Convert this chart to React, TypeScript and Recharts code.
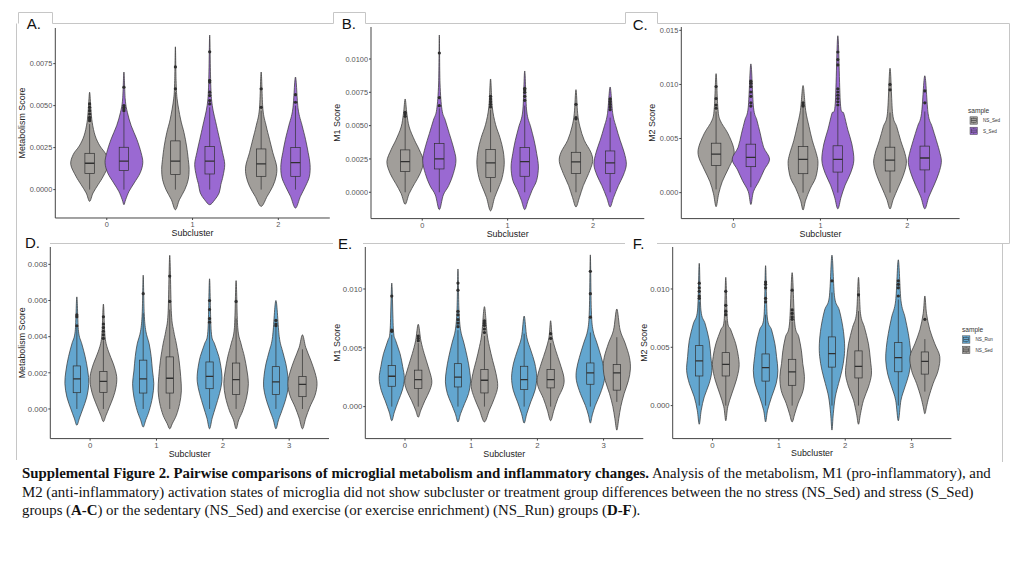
import React from 'react';
import { ComposedChart, Scatter, XAxis, YAxis, Legend } from 'recharts';

// ---------------- DATA ----------------
const subclustersABC = ['0', '1', '2'];
const subclustersDEF = ['0', '1', '2', '3'];
const samplesABC = ['NS_Sed', 'S_Sed'];
const samplesDEF = ['NS_Run', 'NS_Sed'];

// Violin outlines: per subcluster, [score, half-width in subcluster units] from bottom tip to top tip
const A_NSSed_violin = [
  [[-0.0007, 0], [-0.0002, 0.04], [0.0003, 0.1], [0.0008, 0.16], [0.0015, 0.22], [0.0021, 0.19], [0.0026, 0.12], [0.0032, 0.065], [0.004, 0.03], [0.0048, 0.015], [0.0058, 0]],
  [[-0.0012, 0], [-0.0006, 0.047], [0, 0.11], [0.0006, 0.15], [0.0012, 0.16], [0.0018, 0.15], [0.0026, 0.13], [0.0034, 0.1], [0.0042, 0.06], [0.0054, 0.02], [0.0065, 0.008], [0.0085, 0]],
  [[-0.001, 0], [-0.0004, 0.07], [0.0002, 0.136], [0.0008, 0.175], [0.0014, 0.18], [0.0022, 0.136], [0.003, 0.097], [0.0038, 0.058], [0.0048, 0.02], [0.007, 0]],
];
const A_SSed_violin = [
  [[-0.0009, 0], [-0.0006, 0.02], [-0.0001, 0.06], [0.0004, 0.12], [0.001, 0.19], [0.0016, 0.22], [0.0022, 0.2], [0.003, 0.15], [0.0038, 0.085], [0.0046, 0.04], [0.0054, 0.015], [0.007, 0]],
  [[-0.0009, 0], [-0.0006, 0.06], [-0.0002, 0.11], [0.0003, 0.13], [0.0008, 0.155], [0.0015, 0.175], [0.0022, 0.15], [0.003, 0.115], [0.0038, 0.08], [0.005, 0.03], [0.0063, 0.012], [0.0092, 0]],
  [[-0.0011, 0], [-0.0004, 0.058], [0.0002, 0.117], [0.0008, 0.163], [0.0015, 0.17], [0.0022, 0.148], [0.003, 0.117], [0.0038, 0.078], [0.0048, 0.031], [0.0067, 0]],
];
const B_NSSed_violin = [
  [[-0.0009, 0], [-0.0001, 0.047], [0.00065, 0.11], [0.0014, 0.175], [0.0023, 0.214], [0.0032, 0.164], [0.0039, 0.11], [0.0049, 0.047], [0.0059, 0.02], [0.007, 0]],
  [[-0.0014, 0], [-0.0004, 0.047], [0.0004, 0.097], [0.0011, 0.136], [0.0021, 0.16], [0.0031, 0.148], [0.0041, 0.11], [0.0051, 0.058], [0.0064, 0.02], [0.0085, 0]],
  [[-0.0011, 0], [-0.0004, 0.04], [0.0005, 0.086], [0.0014, 0.148], [0.0023, 0.195], [0.003, 0.175], [0.0039, 0.097], [0.0049, 0.047], [0.0059, 0.02], [0.0077, 0]],
];
const B_SSed_violin = [
  [[-0.0013, 0], [-0.0002, 0.047], [0.0005, 0.11], [0.0014, 0.164], [0.0024, 0.195], [0.0034, 0.164], [0.0044, 0.117], [0.0054, 0.07], [0.0062, 0.031], [0.0082, 0.008], [0.0118, 0]],
  [[-0.0013, 0], [-0.0006, 0.04], [0.00015, 0.086], [0.0009, 0.14], [0.0019, 0.16], [0.0029, 0.14], [0.0039, 0.11], [0.0049, 0.07], [0.0061, 0.023], [0.0091, 0]],
  [[-0.0011, 0], [-0.0004, 0.04], [0.0005, 0.097], [0.0013, 0.156], [0.0021, 0.19], [0.003, 0.164], [0.0039, 0.117], [0.0049, 0.07], [0.0059, 0.031], [0.0079, 0]],
];
const C_NSSed_violin = [
  [[-0.0013, 0], [-0.0001, 0.03], [0.001, 0.07], [0.0021, 0.134], [0.0033, 0.2], [0.0042, 0.2], [0.0055, 0.134], [0.0067, 0.046], [0.0079, 0.02], [0.011, 0]],
  [[-0.0016, 0], [-0.0007, 0.03], [0.0004, 0.084], [0.0014, 0.146], [0.0027, 0.172], [0.0036, 0.153], [0.0048, 0.107], [0.0061, 0.069], [0.0076, 0.03], [0.0099, 0]],
  [[-0.0015, 0], [-0.0006, 0.038], [0.0005, 0.096], [0.0016, 0.153], [0.0027, 0.188], [0.0036, 0.172], [0.0048, 0.123], [0.0061, 0.077], [0.0073, 0.03], [0.0115, 0]],
];
const C_SSed_violin = [
  [[-0.0011, 0], [0.0001, 0.03], [0.0011, 0.096], [0.0021, 0.153], [0.0031, 0.215], [0.0042, 0.146], [0.0055, 0.107], [0.0067, 0.069], [0.0079, 0.03], [0.0119, 0]],
  [[-0.0015, 0], [-0.0004, 0.038], [0.0007, 0.084], [0.0018, 0.146], [0.003, 0.184], [0.0045, 0.161], [0.0058, 0.115], [0.0073, 0.069], [0.0082, 0.03], [0.0145, 0]],
  [[-0.0015, 0], [-0.0004, 0.046], [0.0007, 0.107], [0.0018, 0.161], [0.0028, 0.19], [0.0036, 0.176], [0.0048, 0.134], [0.0061, 0.084], [0.0073, 0.038], [0.0108, 0]],
];
const D_NSRun_violin = [
  [[-0.0009, 0], [-0.0005, 0.04], [0, 0.09], [0.00066, 0.15], [0.0014, 0.18], [0.0021, 0.165], [0.0029, 0.125], [0.0036, 0.075], [0.0043, 0.025], [0.0062, 0]],
  [[-0.001, 0], [-0.0006, 0.04], [-0.0001, 0.09], [0.00066, 0.14], [0.0014, 0.16], [0.0021, 0.14], [0.0029, 0.12], [0.0036, 0.09], [0.0043, 0.04], [0.0053, 0.015], [0.0074, 0]],
  [[-0.0011, 0], [-0.0005, 0.04], [0.0001, 0.09], [0.00085, 0.15], [0.0015, 0.185], [0.0021, 0.18], [0.0029, 0.14], [0.0036, 0.075], [0.0043, 0.025], [0.0072, 0]],
  [[-0.0011, 0], [-0.0006, 0.04], [-0.0001, 0.09], [0.00057, 0.15], [0.0012, 0.185], [0.0018, 0.18], [0.0025, 0.15], [0.0032, 0.1], [0.004, 0.05], [0.006, 0]],
];
const D_NSSed_violin = [
  [[-0.0007, 0], [-0.00035, 0.04], [0.0001, 0.09], [0.00066, 0.15], [0.0012, 0.19], [0.0018, 0.2], [0.0025, 0.15], [0.0032, 0.075], [0.004, 0.025], [0.0058, 0]],
  [[-0.0011, 0], [-0.0008, 0.04], [-0.00035, 0.1], [0.0003, 0.15], [0.001, 0.175], [0.0018, 0.165], [0.0027, 0.14], [0.0036, 0.1], [0.0043, 0.06], [0.0053, 0.025], [0.0085, 0]],
  [[-0.0011, 0], [-0.0006, 0.04], [-0.0001, 0.1], [0.00066, 0.16], [0.0014, 0.185], [0.0021, 0.165], [0.0029, 0.125], [0.0036, 0.075], [0.0045, 0.025], [0.0071, 0]],
  [[-0.0011, 0], [-0.0005, 0.05], [0.0001, 0.11], [0.00076, 0.19], [0.0014, 0.22], [0.002, 0.19], [0.0027, 0.125], [0.0034, 0.05], [0.0041, 0]],
];
const E_NSRun_violin = [
  [[-0.0012, 0], [-0.00045, 0.04], [0.0005, 0.1], [0.0014, 0.16], [0.0024, 0.19], [0.0034, 0.165], [0.0045, 0.125], [0.0056, 0.06], [0.0065, 0.025], [0.0105, 0]],
  [[-0.0013, 0], [-0.0006, 0.04], [0.00025, 0.1], [0.0011, 0.16], [0.0021, 0.19], [0.0031, 0.175], [0.0042, 0.14], [0.0054, 0.09], [0.0065, 0.04], [0.0082, 0.015], [0.0117, 0]],
  [[-0.0014, 0], [-0.0006, 0.04], [0.0004, 0.1], [0.0014, 0.165], [0.0025, 0.19], [0.0037, 0.16], [0.0048, 0.1], [0.0059, 0.04], [0.0077, 0]],
  [[-0.0014, 0], [-0.0007, 0.03], [0.0001, 0.075], [0.0011, 0.15], [0.0022, 0.21], [0.0031, 0.21], [0.0042, 0.165], [0.0054, 0.1], [0.0065, 0.04], [0.0082, 0.015], [0.0129, 0]],
];
const E_NSSed_violin = [
  [[-0.0009, 0], [-0.0003, 0.04], [0.0005, 0.1], [0.0014, 0.175], [0.0022, 0.205], [0.0034, 0.15], [0.0045, 0.09], [0.0056, 0.04], [0.007, 0]],
  [[-0.0013, 0], [-0.0003, 0.075], [0.0007, 0.15], [0.0017, 0.2], [0.0028, 0.175], [0.0039, 0.125], [0.0051, 0.075], [0.0062, 0.04], [0.0085, 0]],
  [[-0.0012, 0], [-0.0003, 0.05], [0.0007, 0.11], [0.0017, 0.19], [0.0025, 0.2], [0.0037, 0.14], [0.0048, 0.075], [0.0059, 0.025], [0.0073, 0]],
  [[-0.002, 0], [-0.001, 0.03], [0, 0.06], [0.0011, 0.11], [0.0022, 0.175], [0.0032, 0.205], [0.0042, 0.19], [0.0054, 0.125], [0.0065, 0.05], [0.0083, 0]],
];
const F_NSRun_violin = [
  [[-0.0016, 0], [-0.0004, 0.03], [0.00074, 0.075], [0.0019, 0.15], [0.003, 0.19], [0.0042, 0.175], [0.0056, 0.15], [0.007, 0.09], [0.0082, 0.025], [0.0122, 0]],
  [[-0.0014, 0], [-0.0004, 0.03], [0.00074, 0.09], [0.0019, 0.16], [0.003, 0.185], [0.0042, 0.165], [0.0053, 0.14], [0.0065, 0.09], [0.0076, 0.025], [0.012, 0]],
  [[-0.0021, 0], [-0.0007, 0.02], [0.00074, 0.05], [0.0019, 0.1], [0.003, 0.15], [0.0042, 0.185], [0.0053, 0.19], [0.0067, 0.165], [0.0082, 0.11], [0.0093, 0.04], [0.0129, 0]],
  [[-0.0013, 0], [0.00046, 0.04], [0.0016, 0.1], [0.0027, 0.16], [0.0039, 0.19], [0.005, 0.18], [0.0062, 0.15], [0.0076, 0.1], [0.009, 0.04], [0.0125, 0]],
];
const F_NSSed_violin = [
  [[-0.0013, 0], [-0.0001, 0.03], [0.001, 0.09], [0.0022, 0.16], [0.0033, 0.2], [0.0042, 0.19], [0.0053, 0.15], [0.0065, 0.075], [0.0073, 0.025], [0.011, 0]],
  [[-0.0014, 0], [-0.0007, 0.04], [0.0002, 0.09], [0.0013, 0.165], [0.0025, 0.185], [0.0036, 0.16], [0.0047, 0.14], [0.0059, 0.1], [0.007, 0.04], [0.0114, 0]],
  [[-0.0016, 0], [-0.0007, 0.03], [0.00046, 0.075], [0.0016, 0.15], [0.0027, 0.195], [0.0039, 0.18], [0.0053, 0.15], [0.0067, 0.09], [0.0079, 0.03], [0.011, 0]],
  [[-0.0007, 0], [-0.0001, 0.025], [0.00074, 0.06], [0.0019, 0.125], [0.003, 0.2], [0.0042, 0.225], [0.0053, 0.15], [0.0065, 0.075], [0.0079, 0.025], [0.0094, 0]],
];

// Box plots: per subcluster [lower whisker, Q1, median, Q3, upper whisker]
const A_NSSed_box = [[0, 0.00095, 0.00157, 0.00216, 0.0039], [0, 0.0009, 0.0017, 0.0029, 0.0058], [0, 0.00079, 0.00153, 0.00242, 0.0047]];
const A_SSed_box = [[0, 0.00113, 0.00169, 0.00252, 0.0046], [0, 0.00093, 0.00169, 0.00256, 0.0049], [0, 0.00079, 0.0016, 0.0025, 0.005]];
const B_NSSed_box = [[0, 0.00155, 0.0023, 0.00318, 0.0056], [0, 0.0011, 0.0022, 0.0032, 0.0062], [0, 0.0014, 0.00228, 0.003, 0.0053]];
const B_SSed_box = [[0, 0.00175, 0.0025, 0.00365, 0.0063], [0, 0.0012, 0.0023, 0.00335, 0.0065], [0, 0.0014, 0.0022, 0.0031, 0.0056]];
const C_NSSed_box = [[0.0003, 0.0025, 0.00356, 0.00457, 0.0075], [0, 0.00175, 0.00307, 0.00426, 0.0079], [0, 0.002, 0.003, 0.0042, 0.0074]];
const C_SSed_box = [[0.0005, 0.0024, 0.00325, 0.00448, 0.0075], [0, 0.0019, 0.00307, 0.00433, 0.0079], [0, 0.0021, 0.0032, 0.0043, 0.0075]];
const D_NSRun_box = [[0, 0.0009, 0.00166, 0.00238, 0.0045], [0, 0.00088, 0.00166, 0.0027, 0.0053], [0, 0.00112, 0.0018, 0.0026, 0.0047], [0, 0.0008, 0.0015, 0.00234, 0.0045]];
const D_NSSed_box = [[0, 0.00092, 0.00153, 0.00208, 0.0038], [0, 0.00088, 0.0017, 0.00288, 0.0055], [0, 0.0008, 0.00162, 0.00254, 0.005], [0, 0.00068, 0.00136, 0.0018, 0.0033]];
const E_NSRun_box = [[0, 0.00173, 0.00258, 0.0035, 0.0061], [0, 0.00167, 0.0025, 0.00365, 0.0065], [0, 0.00145, 0.0023, 0.00343, 0.0062], [0, 0.0019, 0.00286, 0.00371, 0.0063]];
const E_NSSed_box = [[0, 0.00153, 0.0023, 0.0031, 0.0054], [0, 0.00116, 0.00224, 0.00315, 0.006], [0, 0.00159, 0.0023, 0.00315, 0.0054], [0.0004, 0.0014, 0.00286, 0.00357, 0.0059]];
const F_NSRun_box = [[0, 0.00254, 0.00383, 0.00514, 0.0089], [0, 0.0021, 0.00326, 0.00443, 0.0078], [0, 0.0033, 0.00446, 0.00589, 0.0097], [0, 0.0029, 0.00411, 0.0054, 0.0091]];
const F_NSSed_box = [[0, 0.00254, 0.00354, 0.00454, 0.0073], [0, 0.00174, 0.00289, 0.00397, 0.0072], [0, 0.00237, 0.00337, 0.00469, 0.0081], [0.0012, 0.0027, 0.0038, 0.0046, 0.0057]];

// Outlier points per subcluster
const A_NSSed_out = [[0.0041, 0.0042, 0.0043, 0.0045, 0.0047, 0.0049, 0.0051], [0.006, 0.0073], [0.0049, 0.006]];
const A_SSed_out = [[0.0047, 0.0048, 0.0049, 0.005, 0.0061], [0.0051, 0.0053, 0.0056, 0.0058, 0.0064, 0.0065, 0.0082], [0.0052, 0.00565]];
const B_NSSed_out = [[0.0057, 0.0059, 0.006], [0.0064, 0.0066, 0.0068, 0.007, 0.0072], [0.0055, 0.0056, 0.0066]];
const B_SSed_out = [[0.0065, 0.0071, 0.01045], [0.0069, 0.0072, 0.0075, 0.0077, 0.0078], [0.0062, 0.0064, 0.0066, 0.0068, 0.007]];
const C_NSSed_out = [[0.0078, 0.0081, 0.0087, 0.0098], [0.008, 0.0081, 0.0083], [0.0095, 0.01]];
const C_SSed_out = [[0.008, 0.0083, 0.0089, 0.0093, 0.0098, 0.0101, 0.0103], [0.0081, 0.0084, 0.0087, 0.009, 0.0093, 0.0096, 0.0118, 0.0123, 0.013], [0.0083, 0.0094]];
const D_NSRun_out = [[0.0046, 0.0051, 0.0052], [0.00638], [0.0048, 0.005, 0.0055, 0.006], [0.0046, 0.0047, 0.0049]];
const D_NSSed_out = [[0.0039, 0.0041, 0.0043, 0.0045, 0.0047, 0.0051], [0.00595, 0.00735], [0.00595], []];
const E_NSRun_out = [[0.0064, 0.0065, 0.0094], [0.0068, 0.0071, 0.0074, 0.0078, 0.0081, 0.0099, 0.0105], [], [0.0076, 0.0096, 0.0115]];
const E_NSSed_out = [[0.0056, 0.0058, 0.006], [0.0063, 0.0066, 0.0069, 0.0071, 0.0073], [0.0058, 0.0062], []];
const F_NSRun_out = [[0.0092, 0.0094, 0.0098, 0.0101, 0.0105], [0.0089, 0.0092, 0.0101, 0.0104, 0.0106], [0.0107], [0.0094, 0.0101, 0.0104, 0.0107]];
const F_NSSed_out = [[0.0078, 0.0081, 0.0086, 0.0098], [0.0074, 0.0076, 0.0079, 0.0082, 0.0099], [0.0095], [0.0074]];

// Axis ticks
const ticksMetabolismA = [0, 0.0025, 0.005, 0.0075];
const ticksM1B = [0, 0.0025, 0.005, 0.0075, 0.01];
const ticksM2C = [0, 0.005, 0.01, 0.015];
const ticksMetabolismD = [0, 0.002, 0.004, 0.006, 0.008];
const ticksM1E = [0, 0.005, 0.01];
const ticksM2F = [0, 0.005, 0.01];

// ---------------- STYLE ----------------
const FONT = '"Liberation Sans", Arial, Helvetica, sans-serif';
const SERIF = '"Liberation Serif", "Times New Roman", Times, serif';
const GRAY = '#a19e9a';
const PURPLE = '#9a69d2';
const BLUE = '#63a6cf';
const OUTLINE = '#3a3a3a';
const DODGE = 0.2;
const BOX_HALF = 0.055;

type Pt = { x: number; y: number };

function smoothClosedPath(pts: Pt[]): string {
  const n = pts.length;
  if (n < 3) return '';
  let d = `M${pts[0].x},${pts[0].y}`;
  for (let i = 0; i < n; i++) {
    const p0 = pts[(i - 1 + n) % n];
    const p1 = pts[i];
    const p2 = pts[(i + 1) % n];
    const p3 = pts[(i + 2) % n];
    const c1x = p1.x + (p2.x - p0.x) / 6;
    const c1y = p1.y + (p2.y - p0.y) / 6;
    const c2x = p2.x - (p3.x - p1.x) / 6;
    const c2y = p2.y - (p3.y - p1.y) / 6;
    d += ` C${c1x},${c1y} ${c2x},${c2y} ${p2.x},${p2.y}`;
  }
  return d + 'Z';
}

const ViolinShape = (props: any) => {
  const pts: Pt[] = (props.points || []).filter((p: any) => p && p.x != null && p.y != null);
  return <path d={smoothClosedPath(pts)} fill={props.paint} stroke={OUTLINE} strokeWidth={0.75} strokeLinejoin="round" />;
};

const BoxShape = (props: any) => {
  const p = props.points;
  if (!p || p.length < 8) return <g />;
  const [lo, q1, q1l, q3r, q3, hi, ml, mr] = p;
  return (
    <g stroke="#303030" fill="none" strokeWidth={0.7}>
      <line x1={lo.x} y1={lo.y} x2={q1.x} y2={q1.y} />
      <line x1={q3.x} y1={q3.y} x2={hi.x} y2={hi.y} />
      <rect x={Math.min(q1l.x, q3r.x)} y={Math.min(q1l.y, q3r.y)} width={Math.abs(q3r.x - q1l.x)} height={Math.abs(q3r.y - q1l.y)} />
      <line x1={ml.x} y1={ml.y} x2={mr.x} y2={mr.y} strokeWidth={1.3} />
    </g>
  );
};

const Hidden = () => <g />;
const OutlierDot = (props: any) => <circle cx={props.cx} cy={props.cy} r={1.6} fill="#2e2e2e" />;

function violinPoints(profile: number[][], center: number): Pt[] {
  const right = profile.map(([v, w]) => ({ x: center + w, y: v }));
  const left = profile.slice(1, -1).reverse().map(([v, w]) => ({ x: center - w, y: v }));
  return [...right, ...left];
}
function boxPoints(s: number[], c: number): Pt[] {
  const [lo, q1, med, q3, hi] = s;
  return [
    { x: c, y: lo }, { x: c, y: q1 }, { x: c - BOX_HALF, y: q1 }, { x: c + BOX_HALF, y: q3 },
    { x: c, y: q3 }, { x: c, y: hi }, { x: c - BOX_HALF, y: med }, { x: c + BOX_HALF, y: med },
  ];
}

type Series = { name: string; color: string; offset: number; violins: number[][][]; boxes: number[][]; outliers: number[][] };
type PanelCfg = {
  id: string;
  plot: { l: number; r: number; t: number; b: number };
  yDomain: [number, number];
  yTicks: number[];
  decimals: number;
  tickFont: number;
  cats: string[];
  yTitle: string;
  yTitleX: number;
  xTitleBaseline: number;
  series: Series[];
  legend?: { left: number; top: number; right: number; keyDx: number };
};

const SampleLegend = ({ items, keyDx }: { items: { name: string; color: string }[]; keyDx: number }) => (
  <svg width={50} height={34} style={{ display: 'block', overflow: 'visible' }}>
    <text x={0} y={6} fontSize={6.6} fill="#333" fontFamily={FONT}>sample</text>
    {items.map((it, i) => (
      <g key={it.name} transform={`translate(${keyDx}, ${9.8 + i * 10.4})`}>
        <rect x={0} y={0} width={7.4} height={7.4} fill={it.color} stroke="#444" strokeWidth={0.5} />
        <line x1={3.7} y1={0.6} x2={3.7} y2={6.8} stroke="#333" strokeWidth={0.4} />
        <rect x={1.2} y={1.8} width={5} height={3.8} fill={it.color} stroke="#333" strokeWidth={0.45} />
        <line x1={1.2} y1={3.7} x2={6.2} y2={3.7} stroke="#333" strokeWidth={0.6} />
        <text x={13} y={5.4} fontSize={4.6} fill="#333" fontFamily={FONT}>{it.name}</text>
      </g>
    ))}
  </svg>
);

const mkSeriesABC = (nsSed: any[], sSed: any[]): Series[] => [
  { name: samplesABC[0], color: GRAY, offset: -DODGE, violins: nsSed[0], boxes: nsSed[1], outliers: nsSed[2] },
  { name: samplesABC[1], color: PURPLE, offset: DODGE, violins: sSed[0], boxes: sSed[1], outliers: sSed[2] },
];
const mkSeriesDEF = (run: any[], sed: any[]): Series[] => [
  { name: samplesDEF[0], color: BLUE, offset: -DODGE, violins: run[0], boxes: run[1], outliers: run[2] },
  { name: samplesDEF[1], color: GRAY, offset: DODGE, violins: sed[0], boxes: sed[1], outliers: sed[2] },
];

const panels: PanelCfg[] = [
  {
    id: 'A', plot: { l: 55, r: 329.5, t: 28.3, b: 218.3 }, yDomain: [-0.00169, 0.00962], yTicks: ticksMetabolismA, decimals: 4, tickFont: 7.4,
    cats: subclustersABC, yTitle: 'Metabolism Score', yTitleX: 21.7, xTitleBaseline: 236.5,
    series: mkSeriesABC([A_NSSed_violin, A_NSSed_box, A_NSSed_out], [A_SSed_violin, A_SSed_box, A_SSed_out]),
  },
  {
    id: 'B', plot: { l: 370.7, r: 644, t: 26.7, b: 218.3 }, yDomain: [-0.001975, 0.0124], yTicks: ticksM1B, decimals: 4, tickFont: 7.4,
    cats: subclustersABC, yTitle: 'M1 Score', yTitleX: 336.7, xTitleBaseline: 236.5,
    series: mkSeriesABC([B_NSSed_violin, B_NSSed_box, B_NSSed_out], [B_SSed_violin, B_SSed_box, B_SSed_out]),
  },
  {
    id: 'C', plot: { l: 681, r: 959.3, t: 26.7, b: 218.3 }, yDomain: [-0.0024, 0.01531], yTicks: ticksM2C, decimals: 3, tickFont: 7.4,
    cats: subclustersABC, yTitle: 'M2 Score', yTitleX: 651.7, xTitleBaseline: 236.5,
    series: mkSeriesABC([C_NSSed_violin, C_NSSed_box, C_NSSed_out], [C_SSed_violin, C_SSed_box, C_SSed_out]),
    legend: { left: 968, top: 107.3, right: 1012, keyDx: 2 },
  },
  {
    id: 'D', plot: { l: 50, r: 328.7, t: 246.7, b: 438.3 }, yDomain: [-0.00164, 0.00896], yTicks: ticksMetabolismD, decimals: 3, tickFont: 7.8,
    cats: subclustersDEF, yTitle: 'Metabolism Score', yTitleX: 21.7, xTitleBaseline: 456.5,
    series: mkSeriesDEF([D_NSRun_violin, D_NSRun_box, D_NSRun_out], [D_NSSed_violin, D_NSSed_box, D_NSSed_out]),
  },
  {
    id: 'E', plot: { l: 365, r: 643, t: 246.7, b: 438.3 }, yDomain: [-0.00272, 0.01357], yTicks: ticksM1E, decimals: 3, tickFont: 7.8,
    cats: subclustersDEF, yTitle: 'M1 Score', yTitleX: 336.7, xTitleBaseline: 456.5,
    series: mkSeriesDEF([E_NSRun_violin, E_NSRun_box, E_NSRun_out], [E_NSSed_violin, E_NSSed_box, E_NSSed_out]),
  },
  {
    id: 'F', plot: { l: 672.7, r: 951.4, t: 246.7, b: 438.3 }, yDomain: [-0.00283, 0.0136], yTicks: ticksM2F, decimals: 3, tickFont: 7.8,
    cats: subclustersDEF, yTitle: 'M2 Score', yTitleX: 644, xTitleBaseline: 456,
    series: mkSeriesDEF([F_NSRun_violin, F_NSRun_box, F_NSRun_out], [F_NSSed_violin, F_NSSed_box, F_NSSed_out]),
    legend: { left: 962, top: 326.3, right: 1000, keyDx: 0.5 },
  },
];

function Panel({ cfg }: { cfg: PanelCfg }) {
  const chartLeft = cfg.yTitleX - 5;
  const chartTop = cfg.plot.t - 5;
  const ya = cfg.plot.l - chartLeft;
  const xa = cfg.xTitleBaseline + 5 - cfg.plot.b;
  const rightMargin = cfg.legend ? cfg.legend.right - cfg.plot.r : 6;
  const width = cfg.plot.r + rightMargin - chartLeft;
  const height = cfg.plot.b + xa - chartTop;
  const n = cfg.cats.length;
  const tickIdx = cfg.cats.map((_, i) => i);

  const violinEls: React.ReactNode[] = [];
  const boxEls: React.ReactNode[] = [];
  const outEls: React.ReactNode[] = [];
  cfg.series.forEach((s, si) => {
    cfg.cats.forEach((_, ci) => {
      const c = ci + s.offset;
      violinEls.push(
        <Scatter key={`v-${si}-${ci}`} name={s.name} data={violinPoints(s.violins[ci], c)} shape={Hidden}
          line={<ViolinShape paint={s.color} />} isAnimationActive={false} legendType="none" />
      );
      boxEls.push(
        <Scatter key={`b-${si}-${ci}`} data={boxPoints(s.boxes[ci], c)} shape={Hidden}
          line={<BoxShape />} isAnimationActive={false} legendType="none" />
      );
    });
    const outs = s.outliers.flatMap((vals, ci) => vals.map((v) => ({ x: ci + s.offset, y: v })));
    outEls.push(
      <Scatter key={`o-${si}`} data={outs} shape={OutlierDot} isAnimationActive={false} legendType="none" />
    );
  });

  return (
    <div style={{ position: 'absolute', left: chartLeft, top: chartTop, width, height }}>
      <ComposedChart width={width} height={height} margin={{ top: 5, right: rightMargin, bottom: 0, left: 0 }}>
        <XAxis type="number" dataKey="x" domain={[-0.6, n - 0.4]} ticks={tickIdx} interval={0} allowDataOverflow
          tickFormatter={(v: number) => cfg.cats[Math.round(v)] ?? ''} height={xa}
          tick={{ fontSize: cfg.tickFont, fill: '#555', fontFamily: FONT }} tickSize={2} tickMargin={2}
          tickLine={{ stroke: '#444' }} axisLine={{ stroke: '#444', strokeWidth: 1 }}
          label={{ value: 'Subcluster', position: 'insideBottom', offset: 5, style: { fontSize: 8.9, fill: '#222', fontFamily: FONT } }} />
        <YAxis type="number" dataKey="y" domain={cfg.yDomain} ticks={cfg.yTicks} interval={0} allowDataOverflow width={ya}
          tickFormatter={(v: number) => v.toFixed(cfg.decimals)}
          tick={{ fontSize: cfg.tickFont, fill: '#555', fontFamily: FONT }} tickSize={2} tickMargin={1}
          tickLine={{ stroke: '#444' }} axisLine={{ stroke: '#444', strokeWidth: 1 }}
          label={{ value: cfg.yTitle, angle: -90, position: 'insideLeft', offset: 5, style: { textAnchor: 'middle', fontSize: 8.9, fill: '#222', fontFamily: FONT } }} />
        {violinEls}
        {boxEls}
        {outEls}
        {cfg.legend && (
          <Legend layout="horizontal" verticalAlign="middle" align="center"
            wrapperStyle={{ left: cfg.legend.left - chartLeft, top: cfg.legend.top - chartTop, width: 'auto', height: 'auto', lineHeight: 0 }}
            content={() => <SampleLegend items={cfg.series.map((s) => ({ name: s.name, color: s.color }))} keyDx={cfg.legend!.keyDx} />} />
        )}
      </ComposedChart>
    </div>
  );
}

const panelLetters = [
  { t: 'A.', x: 26.7, y: 29 },
  { t: 'B.', x: 341.7, y: 29.1 },
  { t: 'C.', x: 632.7, y: 30.3 },
  { t: 'D.', x: 25, y: 248.3 },
  { t: 'E.', x: 338, y: 248.6 },
  { t: 'F.', x: 632.7, y: 249 },
];

export default function App() {
  return (
    <div style={{ position: 'absolute', left: 0, top: 0, width: 1024, height: 576, background: '#fff', overflow: 'hidden' }}>
      <svg width={1024} height={576} style={{ position: 'absolute', left: 0, top: 0 }}>
        <g fill="none" stroke="#c6c6c6" strokeWidth={1}>
          <path d="M18.5,23.5 V12.5 H52.5 V23.5 H333.5 V12.5 H365.5 V23.5 H625.5 V12.5 H657.5 V23.5 H1009.5 V243.5 H657" />
          <path d="M16.5,23.5 V460" />
          <path d="M50,243.5 H333" />
          <path d="M363,243.5 H625" />
          <path d="M1002.5,243.5 V462" />
        </g>
      </svg>
      {panels.map((p) => <Panel key={p.id} cfg={p} />)}
      <svg width={1024} height={576} style={{ position: 'absolute', left: 0, top: 0, pointerEvents: 'none' }}>
        {panelLetters.map((l) => (
          <text key={l.t} x={l.x} y={l.y} fontSize={15} fontFamily={FONT} fill="#111">{l.t}</text>
        ))}
      </svg>
      <div style={{ position: 'absolute', left: 22, top: 464.3, fontFamily: SERIF, fontSize: 14.85, lineHeight: '18.2px', color: '#111', whiteSpace: 'nowrap' }}>
        <b>Supplemental Figure 2. Pairwise comparisons of microglial metabolism and inflammatory changes.</b> Analysis of the metabolism, M1 (pro-inflammatory), and
        <br />
        M2 (anti-inflammatory) activation states of microglia did not show subcluster or treatment group differences between the no stress (NS_Sed) and stress (S_Sed)
        <br />
        groups (<b>A-C</b>) or the sedentary (NS_Sed) and exercise (or exercise enrichment) (NS_Run) groups (<b>D-F</b>).
      </div>
    </div>
  );
}
